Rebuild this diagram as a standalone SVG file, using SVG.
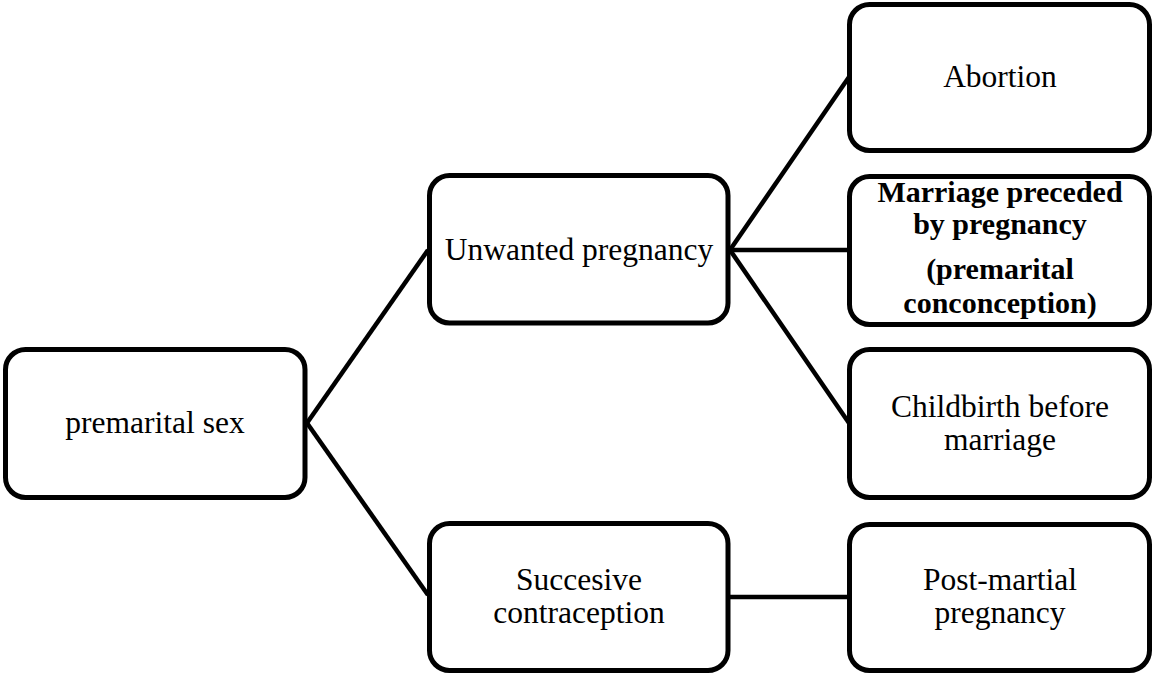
<svg xmlns="http://www.w3.org/2000/svg" width="1154" height="675" viewBox="0 0 1154 675">
<style>
.box{fill:#fff;stroke:#000;stroke-width:5}
.t{font-family:"Liberation Serif","Times New Roman",serif;font-size:31.5px;fill:#000;text-anchor:middle}
.b{font-weight:bold;font-size:30px}
.c{stroke:#000;stroke-width:4.5;fill:none}
</style>
<rect width="1154" height="675" fill="#fff"/>
<g id="connectors">
<line class="c" x1="307" y1="423" x2="428" y2="250"/>
<line class="c" x1="307" y1="423" x2="428" y2="595"/>
<line class="c" x1="730" y1="250" x2="849" y2="77"/>
<line class="c" x1="730" y1="250" x2="849" y2="250"/>
<line class="c" x1="730" y1="250" x2="849" y2="423"/>
<line class="c" x1="730" y1="597" x2="849" y2="597"/>
</g>
<g id="premarital-sex">
<rect class="box" x="5.5" y="349.5" width="299.5" height="148" rx="20"/>
<text class="t" x="155" y="433">premarital sex</text>
</g>
<g id="unwanted-pregnancy">
<rect class="box" x="429.5" y="175.5" width="298.5" height="147.5" rx="20"/>
<text class="t" x="579" y="260">Unwanted pregnancy</text>
</g>
<g id="succesive-contraception">
<rect class="box" x="429.5" y="523.5" width="298.5" height="147" rx="20"/>
<text class="t" x="579" y="590">Succesive</text>
<text class="t" x="579" y="623">contraception</text>
</g>
<g id="abortion">
<rect class="box" x="849.5" y="4.5" width="300" height="146" rx="20"/>
<text class="t" x="1000" y="87">Abortion</text>
</g>
<g id="marriage-preceded">
<rect class="box" x="849.5" y="176.5" width="300" height="148" rx="20"/>
<text class="t b" x="1000" y="202">Marriage preceded</text>
<text class="t b" x="1000" y="234">by pregnancy</text>
<text class="t b" x="1000" y="279">(premarital</text>
<text class="t b" x="1000" y="313">conconception)</text>
</g>
<g id="childbirth">
<rect class="box" x="849.5" y="349.5" width="300" height="148" rx="20"/>
<text class="t" x="1000" y="417">Childbirth before</text>
<text class="t" x="1000" y="450">marriage</text>
</g>
<g id="post-martial">
<rect class="box" x="849.5" y="524.5" width="300" height="146" rx="20"/>
<text class="t" x="1000" y="590">Post-martial</text>
<text class="t" x="1000" y="623">pregnancy</text>
</g>
</svg>
